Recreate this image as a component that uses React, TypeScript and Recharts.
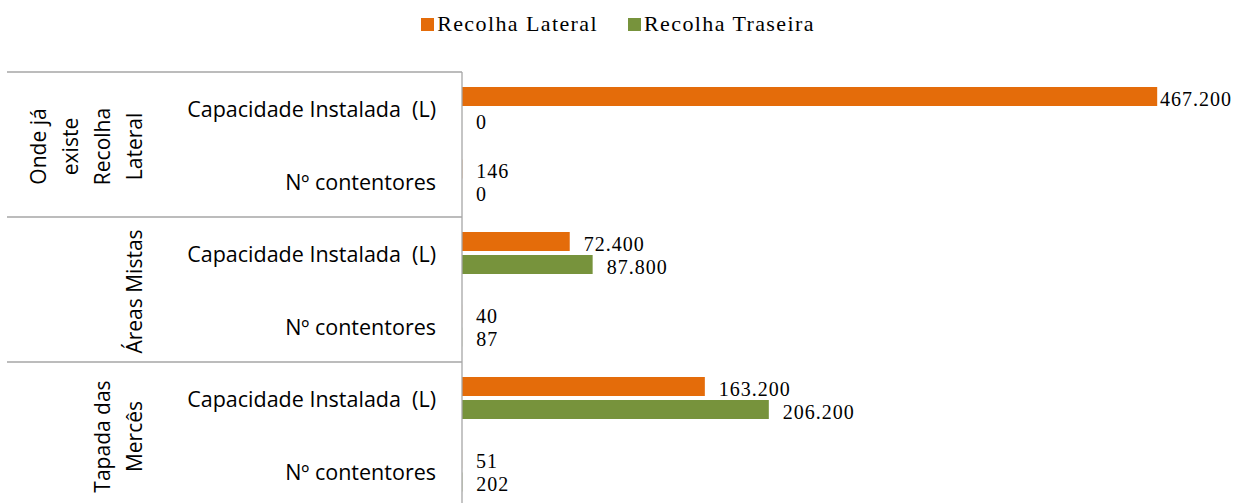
import { BarChart, Bar, XAxis, YAxis, Legend, LabelList } from 'recharts'

// grupos (eixo vertical de 2 níveis)
const groupLines = [['Onde já', 'existe', 'Recolha', 'Lateral'], ['Áreas Mistas'], ['Tapada das', 'Mercês']]
const rowLabels = ['Capacidade Instalada\u00a0 (L)', 'Nº contentores']

// valores por linha (grupo x linha)
const recolhaLateral = [467200, 146, 72400, 40, 163200, 51]
const recolhaTraseira = [0, 0, 87800, 87, 206200, 202]

const seriesNames = ['Recolha Lateral', 'Recolha Traseira']
const colors = ['#E46C0A', '#77933C']

const rows = recolhaLateral.map((v, i) => ({
  key: `g${Math.floor(i / 2)}-r${i % 2}`,
  group: Math.floor(i / 2),
  label: rowLabels[i % 2],
  lateral: v,
  traseira: recolhaTraseira[i],
}))

const W = 1236
const H = 510
const AXIS_W = 462
const sans = '"Open Sans", "Noto Sans", sans-serif'
const serif = '"Liberation Serif", "Times New Roman", serif'
const lineColor = '#a6a6a6'

const fmt = (v: number) => String(v).replace(/\B(?=(\d{3})+(?!\d))/g, '.')

function CategoryTick(props: any) {
  const { y, payload } = props
  const idx = rows.findIndex((r) => r.key === payload.value)
  const row = rows[idx]
  const half = payload.offset || 36.25
  const first = idx % 2 === 0
  const lines = groupLines[row.group]
  const groupCenter = y + (first ? half : -half) + 2
  return (
    <g>
      <text x={AXIS_W - 26} y={y + 9} textAnchor="end" fontFamily={sans} fontSize={21.5} fill="#000">
        {row.label}
      </text>
      {first && (
        <>
          <line x1={7} x2={AXIS_W} y1={y - half} y2={y - half} stroke={lineColor} strokeWidth={1.3} />
          {lines.map((t, i) => {
            const bx = 142 - (lines.length - 1 - i) * 32
            return (
              <text
                key={i}
                x={bx}
                y={groupCenter}
                transform={`rotate(-90, ${bx}, ${groupCenter})`}
                textAnchor="middle"
                fontFamily={sans}
                fontSize={21}
                fill="#000"
              >
                {t}
              </text>
            )
          })}
        </>
      )}
    </g>
  )
}

function ValueLabel(props: any) {
  const { x, y, width, height, value } = props
  const end = x + width
  const lx = Math.min(end + 14, W - 76)
  return (
    <text
      x={lx}
      y={y + height / 2 + 2}
      dominantBaseline="central"
      fontFamily={serif}
      fontSize={20}
      letterSpacing={1}
      fill="#000"
    >
      {fmt(value)}
    </text>
  )
}

function LegendContent() {
  return (
    <div style={{ display: 'flex', justifyContent: 'center', alignItems: 'center', gap: 30 }}>
      {seriesNames.map((n, i) => (
        <div key={n} style={{ display: 'flex', alignItems: 'center' }}>
          <span style={{ width: 13, height: 13, background: colors[i], marginRight: 3, display: 'inline-block' }} />
          <span style={{ fontFamily: serif, fontSize: 22, letterSpacing: 1.4, color: '#000', lineHeight: '24px' }}>{n}</span>
        </div>
      ))}
    </div>
  )
}

export default function App() {
  return (
    <div style={{ position: 'absolute', left: 0, top: 0, width: W, height: 503, overflow: 'hidden', background: '#fff' }}>
      <BarChart
        width={W}
        height={H}
        data={rows}
        layout="vertical"
        margin={{ top: 72, right: 30, bottom: 3, left: 0 }}
        barSize={19}
        barGap={4}
      >
        <XAxis type="number" domain={[0, 500000]} hide />
        <YAxis
          type="category"
          dataKey="key"
          width={AXIS_W}
          axisLine={{ stroke: lineColor, strokeWidth: 1.3 }}
          tickLine={false}
          interval={0}
          tick={<CategoryTick />}
        />
        <Legend
          layout="horizontal"
          verticalAlign="middle"
          align="center"
          content={<LegendContent />}
          wrapperStyle={{ top: 12, left: 0, width: W }}
        />
        <Bar dataKey="lateral" name={seriesNames[0]} fill={colors[0]} minPointSize={0.01} isAnimationActive={false}>
          <LabelList dataKey="lateral" content={<ValueLabel />} />
        </Bar>
        <Bar dataKey="traseira" name={seriesNames[1]} fill={colors[1]} minPointSize={0.01} isAnimationActive={false}>
          <LabelList dataKey="traseira" content={<ValueLabel />} />
        </Bar>
      </BarChart>
    </div>
  )
}
